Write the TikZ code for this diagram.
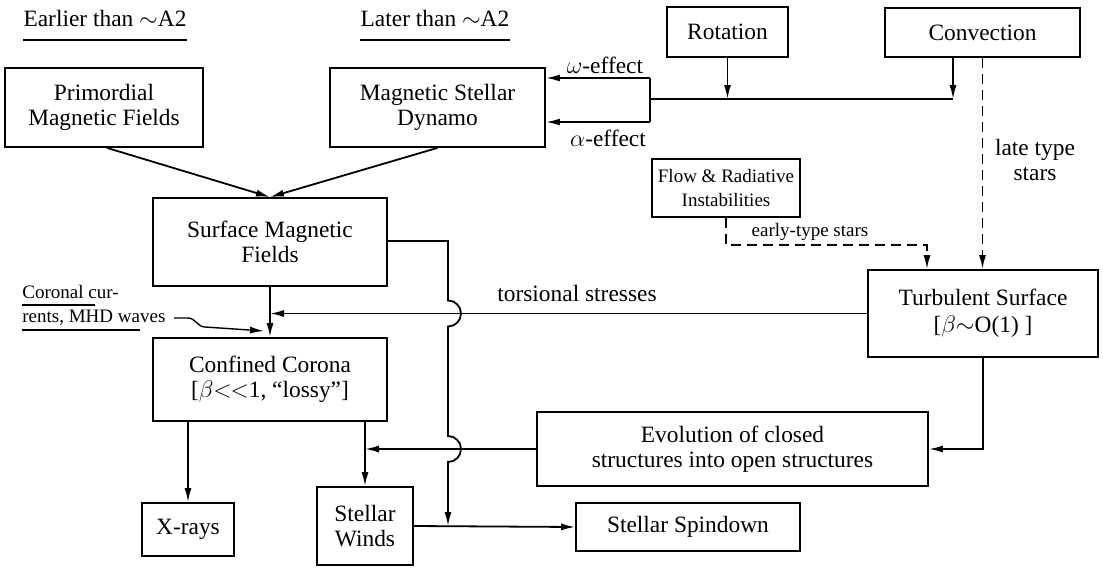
\documentclass[tikz,border=0pt]{standalone}
\usepackage{fontspec}
\setmainfont{Liberation Serif}
\usetikzlibrary{arrows.meta,positioning,calc}

\tikzset{
  box/.style={draw,line width=0.9pt,inner sep=0pt,align=center,
    font=\fontsize{11.7}{12.5}\selectfont},
  smallbox/.style={box,font=\fontsize{9.5}{12}\selectfont},
  lbl/.style={inner sep=0pt,align=center,font=\fontsize{11.7}{12.5}\selectfont},
  smalllbl/.style={lbl,font=\fontsize{9.5}{12}\selectfont},
  arr/.style={line width=0.9pt,-{Latex[length=7pt,width=3.5pt]}},
  dasharr/.style={arr,dash pattern=on 5pt off 3pt},
  uline/.style={line width=0.8pt}
}

\begin{document}
\begin{tikzpicture}[x=0.5pt,y=-0.5pt]
\useasboundingbox (0,0) rectangle (1103,568);

% headings
\node[lbl,anchor=base] (earlier) at (105,26) {Earlier than $\sim$A2};
\node[lbl,anchor=base] (later) at (435,26) {Later than $\sim$A2};
\draw[uline] ([yshift=-7pt]earlier.base west) -- ([yshift=-7pt]earlier.base east);
\draw[uline] ([yshift=-7pt]later.base west) -- ([yshift=-7pt]later.base east);

% boxes
\node[box,minimum width=99pt,minimum height=39.5pt] (prim) at (104,107.5) {Primordial\\Magnetic Fields};
\node[box,minimum width=107.5pt,minimum height=39.5pt] (dyn) at (437.5,107.5) {Magnetic Stellar\\Dynamo};
\node[box,minimum width=60.5pt,minimum height=25pt] (rot) at (727.5,32) {Rotation};
\node[box,minimum width=97.5pt,minimum height=24.5pt] (conv) at (982.5,32.5) {Convection};
\node[smallbox,minimum width=74pt,minimum height=29pt] (flow) at (726,188) {Flow \& Radiative\\Instabilities};
\node[box,minimum width=117pt,minimum height=44pt] (smf) at (270,242) {Surface Magnetic\\Fields};
\node[box,minimum width=115pt,minimum height=43.5pt] (turb) at (983,313.5) {Turbulent Surface\\[1pt]{}[$\beta{\sim}$O(1) ]};
\node[box,minimum width=117pt,minimum height=41.5pt] (conf) at (270,379.5) {Confined Corona\\{}[$\beta$$<$\kern-0.6pt$<$1, ``lossy'']};
\node[box,minimum width=195.5pt,minimum height=37pt] (evol) at (732.5,449) {Evolution of closed\\structures into open structures};
\node[box,minimum width=46pt,minimum height=26.5pt] (xray) at (188,529.5) {X-rays};
\node[box,minimum width=48pt,minimum height=39pt] (sw) at (365,526) {Stellar\\Winds};
\node[box,minimum width=112pt,minimum height=24pt] (spin) at (688,527) {Stellar Spindown};

% labels
\node[lbl] (omega) at (605,65) {$\omega$-effect};
\node[lbl] (alpha) at (608,138) {$\alpha$-effect};
\node[lbl] (late) at (1035,160) {late type\\stars};
\node[smalllbl] (early) at (810,232) {early-type stars};
\node[lbl] (tors) at (577,293) {torsional stresses};
\node[smalllbl,align=left,anchor=west] (cor) at (22,305.5) {Coronal cur-\\rents, MHD waves};
\draw[uline] (22,305) -- (95,305);
\draw[uline] (22,330) -- (140,330);

% dynamo inputs
\coordinate (om) at (650,78);
\coordinate (al) at (650,122);
\coordinate (hub) at (650,99);
\coordinate (cj) at (953,99);
\draw[line width=0.9pt] (om) -- (al);
\draw[line width=0.9pt] (hub) -- (cj);
\draw[arr] (om) -- (om -| dyn.east);
\draw[arr] (al) -- (al -| dyn.east);
\draw[arr] (rot.south) -- (rot.south |- hub);
\draw[arr] (cj |- conv.south) -- (cj);

% to the surface fields
\draw[arr] ([xshift=1.5pt]prim.south) -- (smf.north);
\draw[arr] (dyn.south) -- (smf.north);

% turbulent surface
\coordinate (ej) at (927,245);
\draw[dasharr] (conv.south) -- (conv.south |- turb.north);
\draw[dasharr] (flow.south) |- (ej) -- (ej |- turb.north);
\draw[arr] (turb.west) -- (turb.west -| smf.south);
\draw[arr] (turb.south) |- (evol.east);

% corona
\coordinate (cw) at (174,318);
\coordinate (cc) at (264,331);
\draw[arr,line width=0.7pt] (cw) -- ++(14,0) to[out=0,in=180] (205,327) -- (cc);
\draw[arr] (smf.south) -- (conf.north);
\draw[arr] (conf.south -| xray.north) -- (xray.north);
\draw[arr] (conf.south -| sw.north) -- (sw.north);
\draw[arr] (evol.west) -- (evol.west -| sw.north);

% winds and spindown
\coordinate (vx) at (448,241);
\draw[arr] (smf.east |- vx) -- (vx)
  -- ([yshift=6.5pt]vx |- turb.west) arc[start angle=90,end angle=-90,radius=6.5pt]
  -- ([yshift=6.5pt]vx |- evol.west) arc[start angle=90,end angle=-90,radius=6.5pt]
  -- (vx |- sw.east);
\draw[arr] (sw.east) -- (spin.west);
\end{tikzpicture}
\end{document}
